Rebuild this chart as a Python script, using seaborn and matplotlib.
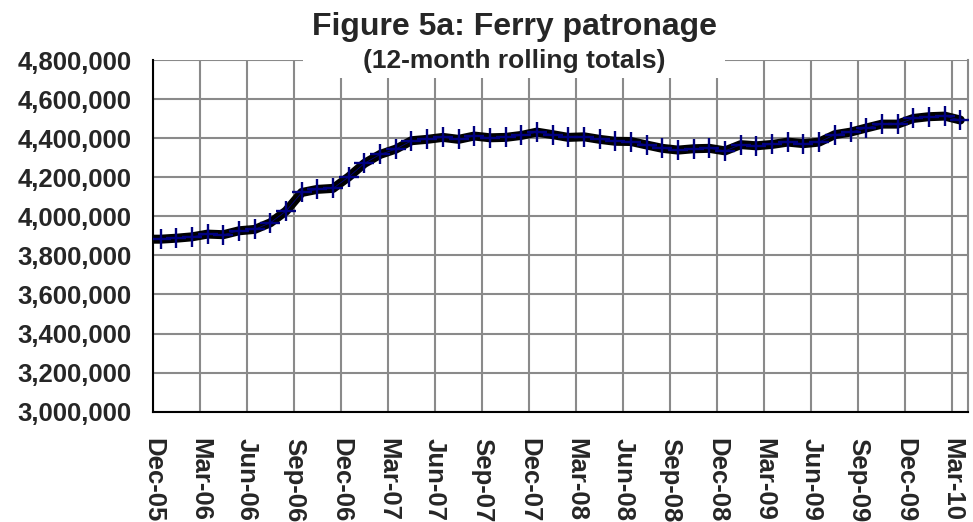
import numpy as np
import pandas as pd
import matplotlib
matplotlib.use("Agg")
import matplotlib.pyplot as plt
from matplotlib.patches import Rectangle
from matplotlib.ticker import FuncFormatter
import seaborn as sns

# monthly 12-month rolling totals, Dec-05 .. Mar-10
months = pd.date_range("2005-12-01", "2010-03-01", freq="MS")
patronage = [
    3883000, 3888000, 3895000, 3909000, 3906000, 3926000, 3933000, 3967000,
    4027000, 4122000, 4138000, 4143000, 4202000, 4271000, 4317000, 4344000,
    4387000, 4394000, 4404000, 4394000, 4411000, 4402000, 4404000, 4414000,
    4431000, 4418000, 4404000, 4407000, 4394000, 4384000, 4383000, 4365000,
    4348000, 4339000, 4346000, 4348000, 4335000, 4367000, 4361000, 4368000,
    4380000, 4372000, 4380000, 4418000, 4431000, 4452000, 4472000, 4472000,
    4501000, 4510000, 4513000, 4493000,
]
tick_labels = [m.strftime("%b-%y") for m in months[::3]]

sns.set_style("white")
plt.rcParams["font.family"] = ["Liberation Sans", "DejaVu Sans"]
plt.rcParams["font.weight"] = "bold"

df = pd.DataFrame({"month": months, "value": patronage})
df["pos"] = np.arange(len(df)) + 0.5  # points sit in the middle of each month slot

# black trace runs from the left edge of the plot area
trace = pd.concat([pd.DataFrame({"pos": [0.0], "value": [patronage[0]]}),
                   df[["pos", "value"]]], ignore_index=True)

fig = plt.figure(figsize=(9.73, 5.22), dpi=100)
ax = fig.add_axes([0.157, 0.2113, 0.838, 0.6737])

sns.lineplot(data=trace, x="pos", y="value", color="black", lw=6.5,
             ax=ax, zorder=3, sort=False)
sns.lineplot(data=df, x="pos", y="value", color="#000080", lw=0.6,
             marker="+", markersize=15, markeredgecolor="#000080",
             markeredgewidth=1.7, ax=ax, zorder=4)

ax.set_xlim(0, len(df))
ax.set_ylim(3000000, 4800000)
ax.set_yticks(np.arange(3000000, 4800001, 200000))
ax.yaxis.set_major_formatter(FuncFormatter(lambda v, p: f"{v:,.0f}"))
ax.set_xticks(np.arange(0, len(df), 3))
ax.set_xticklabels(tick_labels, rotation=-90, ha="center", va="top")

ax.grid(True, color="#8a8a8a", lw=1.5)
ax.set_axisbelow(True)
ax.set_xlabel("")
ax.set_ylabel("")

for side in ["left", "bottom"]:
    ax.spines[side].set_color("black")
    ax.spines[side].set_linewidth(1.5)
ax.spines["top"].set_visible(False)
ax.spines["right"].set_color("#8a8a8a")
ax.spines["right"].set_linewidth(1.5)

ax.tick_params(axis="both", which="both", direction="out", length=5,
               width=1.2, color="black", labelsize=18.5)
ax.tick_params(axis="x", pad=14)
ax.tick_params(axis="y", pad=10)
for lbl in ax.get_xticklabels() + ax.get_yticklabels():
    lbl.set_fontweight("bold")

# white panel behind the title, cut into the top of the grid
fig.add_artist(Rectangle((303 / 973, 1 - 78 / 522), 422 / 973, 78 / 522,
                         transform=fig.transFigure, facecolor="white",
                         edgecolor="none", zorder=2.5))
fig.text(0.529, 0.933, "Figure 5a: Ferry patronage", ha="center", va="baseline",
         fontsize=23, fontweight="bold", zorder=4)
fig.text(0.529, 0.870, "(12-month rolling totals)", ha="center", va="baseline",
         fontsize=19, fontweight="bold", zorder=4)

fig.savefig("out.png", dpi=100)
